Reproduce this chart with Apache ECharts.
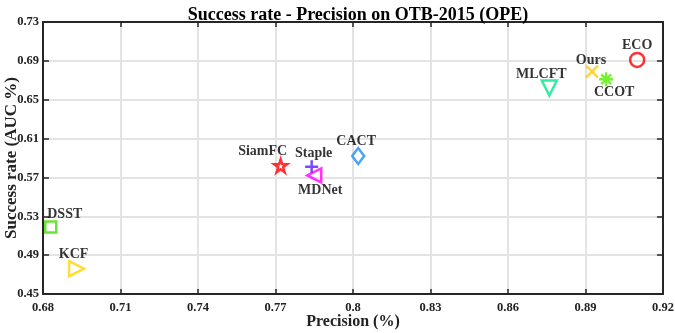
<!DOCTYPE html>
<html>
<head>
<meta charset="utf-8">
<script src="https://cdn.jsdelivr.net/npm/echarts@6/dist/echarts.min.js"></script>
<style>
html,body{margin:0;padding:0;background:#fff}
#main{width:675px;height:333px}
</style>
</head>
<body>
<div id="main"></div>
<script>
// trackers and their (precision, success) values
var trackers = ['ECO', 'Ours', 'CCOT', 'MLCFT', 'CACT', 'SiamFC', 'Staple', 'MDNet', 'DSST', 'KCF']
var precision = [0.910, 0.8925, 0.898, 0.876, 0.802, 0.772, 0.784, 0.785, 0.683, 0.693]
var success = [0.691, 0.679, 0.671, 0.662, 0.592, 0.582, 0.581, 0.572, 0.519, 0.476]
var xTicks = [0.68, 0.71, 0.74, 0.77, 0.8, 0.83, 0.86, 0.89, 0.92]
var yTicks = [0.45, 0.49, 0.53, 0.57, 0.61, 0.65, 0.69, 0.73]

// marker styles
var star = 'path://M50,0L61.23,34.55L97.55,34.55L68.16,55.9L79.39,90.45L50,69.1L20.61,90.45L31.84,55.9L2.45,34.55L38.77,34.55Z'
var styles = [
    {sym: 'circle', size: 14, color: '#ff0000'},
    {sym: 'path://M0,0L10,10M10,0L0,10', size: 12, color: '#ffcc00'},
    {sym: 'path://M5,0L5,10M0,5L10,5M1.5,1.5L8.5,8.5M8.5,1.5L1.5,8.5', size: 14, color: '#55ee00'},
    {sym: 'path://M0,0L10,0L5,8.66Z', size: 15, color: '#00e68a'},
    {sym: 'diamond', size: [12, 16], color: '#1a8cff'},
    {sym: star, size: 13, color: '#ff0000'},
    {sym: 'path://M5,0L5,10M0,5L10,5', size: 13, color: '#5a1aff'},
    {sym: 'path://M8.66,0L0,5L8.66,10Z', size: 14, color: '#ff00ff'},
    {sym: 'rect', size: 11, color: '#44dd00'},
    {sym: 'path://M0,0L8.66,5L0,10Z', size: 15, color: '#ffd500'}
]
// label offsets from marker centre
var labelOff = [[0, -14], [-1, -11], [8, 13], [-8, -14], [-2, -15], [-18, -14], [2, -13], [6, 15], [14, -13], [-3, -14]]

var font = 'Liberation Serif'
function fmt(v){ return String(+v.toFixed(2)) }

var series = []
for (var i = 0; i < trackers.length; i++) {
    series.push({
        name: trackers[i],
        type: 'scatter',
        symbol: styles[i].sym,
        symbolSize: styles[i].size,
        data: [[precision[i], success[i]]],
        itemStyle: {color: 'rgba(0,0,0,0)', borderColor: styles[i].color, borderWidth: 2.5},
        label: {
            show: true,
            position: 'inside',
            offset: labelOff[i],
            formatter: trackers[i],
            color: '#000',
            fontFamily: font,
            fontWeight: 'bold',
            fontSize: 14
        },
        emphasis: {disabled: true},
        z: 5
    })
}

var myChart = echarts.init(document.getElementById('main'))
var axisLine = {show: true, lineStyle: {color: '#262626', width: 2}}
var option = {
    animation: false,
    title: {
        text: 'Success rate - Precision on OTB-2015 (OPE)',
        left: 353,
        textAlign: 'center',
        top: 1,
        textStyle: {fontFamily: font, fontWeight: 'bold', fontSize: 18, color: '#000'}
    },
    grid: {left: 43, right: 12, top: 22, bottom: 39, containLabel: false, outerBoundsMode: 'none'},
    xAxis: [{
        type: 'value',
        min: xTicks[0], max: xTicks[xTicks.length - 1], interval: 0.03,
        name: 'Precision (%)',
        nameLocation: 'middle',
        nameGap: 20,
        nameMoveOverlap: false,
        nameTextStyle: {fontFamily: font, fontWeight: 'bold', fontSize: 16, color: '#222'},
        axisLine: axisLine,
        axisTick: {show: true, inside: true, length: 5, lineStyle: {color: '#262626', width: 1.5}},
        axisLabel: {formatter: fmt, fontFamily: font, fontWeight: 'bold', fontSize: 12.5, color: '#222', margin: 7},
        splitLine: {show: true, lineStyle: {color: '#e3e3e3', width: 2}}
    }, {
        type: 'value', position: 'top',
        min: xTicks[0], max: xTicks[xTicks.length - 1], interval: 0.03,
        axisLine: axisLine,
        axisTick: {show: true, inside: true, length: 5, lineStyle: {color: '#262626', width: 1.5}},
        axisLabel: {show: false},
        splitLine: {show: false}
    }],
    yAxis: [{
        type: 'value',
        min: yTicks[0], max: yTicks[yTicks.length - 1], interval: 0.04,
        name: 'Success rate (AUC %)',
        nameLocation: 'middle',
        nameGap: 23,
        nameMoveOverlap: false,
        nameTextStyle: {fontFamily: font, fontWeight: 'bold', fontSize: 17, color: '#222'},
        axisLine: axisLine,
        axisTick: {show: true, inside: true, length: 6, lineStyle: {color: '#262626', width: 1.5}},
        axisLabel: {formatter: fmt, fontFamily: font, fontWeight: 'bold', fontSize: 12.5, color: '#222', margin: 4},
        splitLine: {show: true, lineStyle: {color: '#e3e3e3', width: 2}}
    }, {
        type: 'value', position: 'right',
        min: yTicks[0], max: yTicks[yTicks.length - 1], interval: 0.04,
        axisLine: axisLine,
        axisTick: {show: true, inside: true, length: 6, lineStyle: {color: '#262626', width: 1.5}},
        axisLabel: {show: false},
        splitLine: {show: false}
    }],
    series: series
}
myChart.setOption(option)
</script>
</body>
</html>
